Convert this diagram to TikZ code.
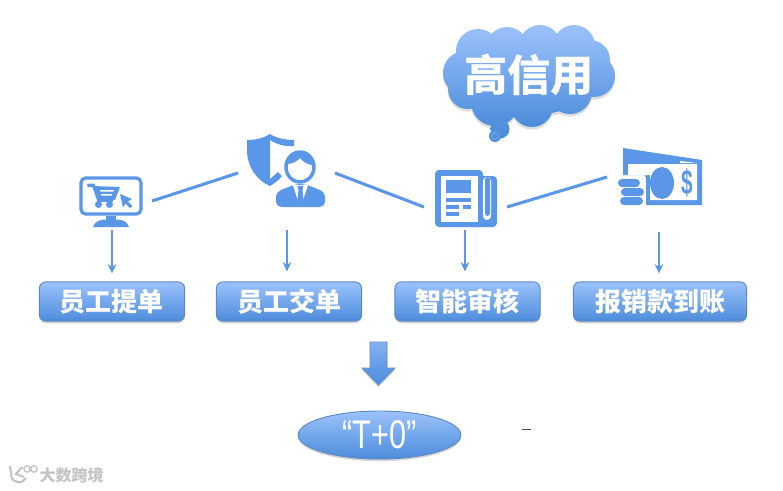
\documentclass[tikz,border=0pt]{standalone}
\usepackage{fontspec}
\setmainfont{Liberation Sans}
\newfontfamily\cjk{Noto Sans CJK SC}
\usetikzlibrary{shapes.geometric,shadows,arrows.meta}
\definecolor{icon}{HTML}{5B97E8}
\definecolor{grtop}{HTML}{9CC2FC}
\definecolor{grbot}{HTML}{4C8CDB}
\definecolor{edgeb}{HTML}{5E8AC4}
\definecolor{wm}{HTML}{C4C4C4}
\tikzset{
  x=0.75pt,y=-0.75pt,
  softshadow/.style={drop shadow={shadow xshift=0pt,shadow yshift=-1.6pt,opacity=.28,fill=black!60}},
  stepbox/.style={rectangle,rounded corners=5pt,draw=edgeb,line width=.7pt,top color=grtop,bottom color=grbot,
    minimum height=29.5pt,inner sep=0pt,text=white,font=\cjk\bfseries\fontsize{19.5}{21}\selectfont,softshadow},
  link/.style={draw=icon,line width=2.3pt},
  drop/.style={draw=icon,line width=.8pt,-{Stealth[length=7pt,width=6.5pt]}},
}
\begin{document}
\begin{tikzpicture}
\useasboundingbox (0,0) rectangle (783,490);
\fill[white] (0,0) rectangle (783,490);

% ---------- icon anchors
\coordinate (cart) at (112,230);
\coordinate (user) at (287,230);
\coordinate (news) at (465,230);
\coordinate (cash) at (659,232);
\coordinate (l1a) at (152,201);
\coordinate (l1b) at (238,173);
\coordinate (l2a) at (335,173);
\coordinate (l2b) at (424,207);
\coordinate (l3a) at (507,207);
\coordinate (l3b) at (607,177);

% ---------- monitor + cart
\draw[icon,line width=2.4pt,rounded corners=3.5pt] (81,178) rectangle (141,214);
\fill[icon] (106,216) rectangle (116,220);
\fill[icon] (93,227) .. controls (95,221) and (100,219.5) .. (106,219.5) -- (116,219.5) .. controls (122,219.5) and (127,221) .. (129,227) -- cycle;
\fill[icon,rounded corners=1pt] (87,183.5) rectangle (95,187);
\fill[icon] (92,186) -- (120,187) -- (115,200) -- (97,200) -- cycle;
\fill[icon] (97,199) rectangle (113,202);
\fill[white] (100,190) -- (114,190) -- (113.5,191.5) -- (100.5,191.5) -- cycle;
\fill[white] (101,194) -- (112,194) -- (111.5,195.5) -- (101.5,195.5) -- cycle;
\fill[icon] (98.5,204.5) circle (3.5) (109.5,204.5) circle (3.5);
\fill[icon] (120,194) -- (132,199) -- (128,201.5) -- (132.5,206) -- (130,208) -- (125.5,203.5) -- (123,207.5) -- cycle;

% ---------- shield + person
\fill[icon] (247,140) .. controls (256,140) and (264,138) .. (270,134) -- (270,186) .. controls (256,180) and (247,166) .. (247,150) -- cycle;
\fill[icon] (270,134) .. controls (276,138) and (285,140) .. (294,140) -- (294,146) -- (288,146) .. controls (281,146) and (275,143) .. (270,140) -- cycle;
\fill[icon] (270,186) -- (270,179) -- (278,172) -- (282,176) .. controls (279,180) and (275,183) .. (270,186) -- cycle;
\draw[icon,line width=2.6pt] (300,167) ellipse (14 and 15);
\fill[icon] (287,164) .. controls (286,156) and (292,152) .. (300,152) .. controls (308,152) and (314,156) .. (313,165) .. controls (308,165) and (303,162) .. (300,158) .. controls (297,161) and (293,164) .. (287,164) -- cycle;
\fill[icon,rounded corners=4pt] (276,207) -- (276,192) -- (296,184) -- (305,184) -- (325,192) -- (325,207) -- cycle;
\fill[white] (293,185) -- (299,204) -- (300.5,204) -- (300.5,206) -- (301,206) -- (308,185) -- cycle;
\fill[icon] (297.5,186) -- (303.5,186) -- (302.5,190) -- (304,204) -- (300.5,206) -- (297,204) -- (298.5,190) -- cycle;

% ---------- newspaper
\fill[icon,rounded corners=3pt] (435,170) rectangle (483,227);
\fill[icon,rounded corners=3pt] (470,176) rectangle (497,227);
\fill[white] (441,176) rectangle (478,222);
\fill[white,rounded corners=3pt] (483,177) rectangle (491,220);
\fill[icon,rounded corners=2pt] (485,177) rectangle (490,216);
\fill[icon] (446,180) rectangle (471,193);
\fill[icon] (446,198) rectangle (471,201.5);
\fill[icon] (446,205) rectangle (459,209);
\fill[icon] (463,205) rectangle (471,209);
\fill[icon] (446,212) rectangle (459,216);

% ---------- money
\fill[icon] (623,148) -- (702,160) -- (702,205) -- (645,205) -- (645,175) -- (623,175) -- cycle;
\fill[white] (628,164) -- (697,164) -- (697,200) -- (650,200) -- (650,175) -- (628,175) -- cycle;
\fill[white] (680,161) -- (697,163) -- (680,163) -- cycle;
\fill[icon] (662,183) ellipse (12 and 16);
\node[text=icon,font=\bfseries\fontsize{26}{26}\selectfont,inner sep=0pt,xscale=.6] (dollar) at (687,183) {\$};
\fill[white] (616,177) rectangle (646,207);
\fill[icon,rounded corners=3pt] (618,179) rectangle (640,187);
\fill[icon,rounded corners=3pt] (621,188) rectangle (644,196);
\fill[icon,rounded corners=3pt] (620,197) rectangle (643,205);

% ---------- cloud
\shade[top color=grtop,bottom color=grbot,draw=none,drop shadow={shadow xshift=0pt,shadow yshift=-2pt,opacity=.22,fill=black!60}]
  (529,80) ellipse (68 and 35)
  (465,73) circle (22)
  (478,51) circle (22)
  (507,48) circle (21)
  (540,46) circle (21)
  (574,46) circle (21)
  (590,60) circle (20)
  (594,76) circle (21)
  (570,92) circle (22)
  (532,106) circle (21)
  (495,102) circle (24)
  (468,89) circle (20);
\shade[top color=grbot!90!grtop,bottom color=grbot] (500,129) circle (9.5);
\shade[top color=grbot!90!grtop,bottom color=grbot] (495,136) circle (6);
\draw[grtop!70!grbot,line width=.4pt] (495,136) circle (3.5);
\node[text=white,font=\cjk\bfseries\fontsize{32.5}{34}\selectfont,inner sep=0pt] (credit) at (529,75) {高信用};

% ---------- connectors
\draw[link] (l1a) -- (l1b);
\draw[link] (l2a) -- (l2b);
\draw[link] (l3a) -- (l3b);

% ---------- boxes
\node[stepbox,minimum width=109pt] (b1) at (112,301.5) {员工提单};
\node[stepbox,minimum width=109pt] (b2) at (289,301.5) {员工交单};
\node[stepbox,minimum width=109pt] (b3) at (467.5,301.5) {智能审核};
\node[stepbox,minimum width=130pt] (b4) at (660,301.5) {报销款到账};

\draw[drop,shorten >=6pt] (cart) -- (b1.north -| cart);
\draw[drop,shorten >=7.5pt] (user) -- (b2.north -| user);
\draw[drop,shorten >=7.5pt] (news) -- (b3.north -| news);
\draw[drop,shorten >=6pt] (cash) -- (b4.north -| cash);

% ---------- block arrow
\shade[top color=grtop!70!grbot,bottom color=grbot,draw=edgeb,line width=.5pt,softshadow]
  (370,342) -- (387,342) -- (387,368) -- (395,368) -- (378.5,385) -- (362,368) -- (370,368) -- cycle;

% ---------- result ellipse
\node[ellipse,draw=edgeb,line width=.7pt,top color=grtop,bottom color=grbot,minimum width=122pt,minimum height=36pt,inner sep=0pt,softshadow,
  text=white,font=\fontsize{25}{26}\selectfont] (result) at (379.5,435) {\scalebox{.92}[1.2]{“T+0”}};

% ---------- stray dash
\draw[black!70,line width=.6pt] (522,429.5) -- (531,429.5);

% ---------- watermark
\draw[wm,line width=1.6pt,rounded corners=2pt] (10,466) -- (12,480) -- (21,483) -- (26,478);
\draw[wm,line width=1.6pt] (22,467) -- (16,474) -- (24,477);
\draw[wm,line width=1pt] (27,469) circle (3.2) (34,469) circle (3.2);
\node[text=wm,font=\cjk\bfseries\fontsize{12}{12}\selectfont,inner sep=0pt] (mark) at (71.5,475) {大数跨境};
\end{tikzpicture}
\end{document}
